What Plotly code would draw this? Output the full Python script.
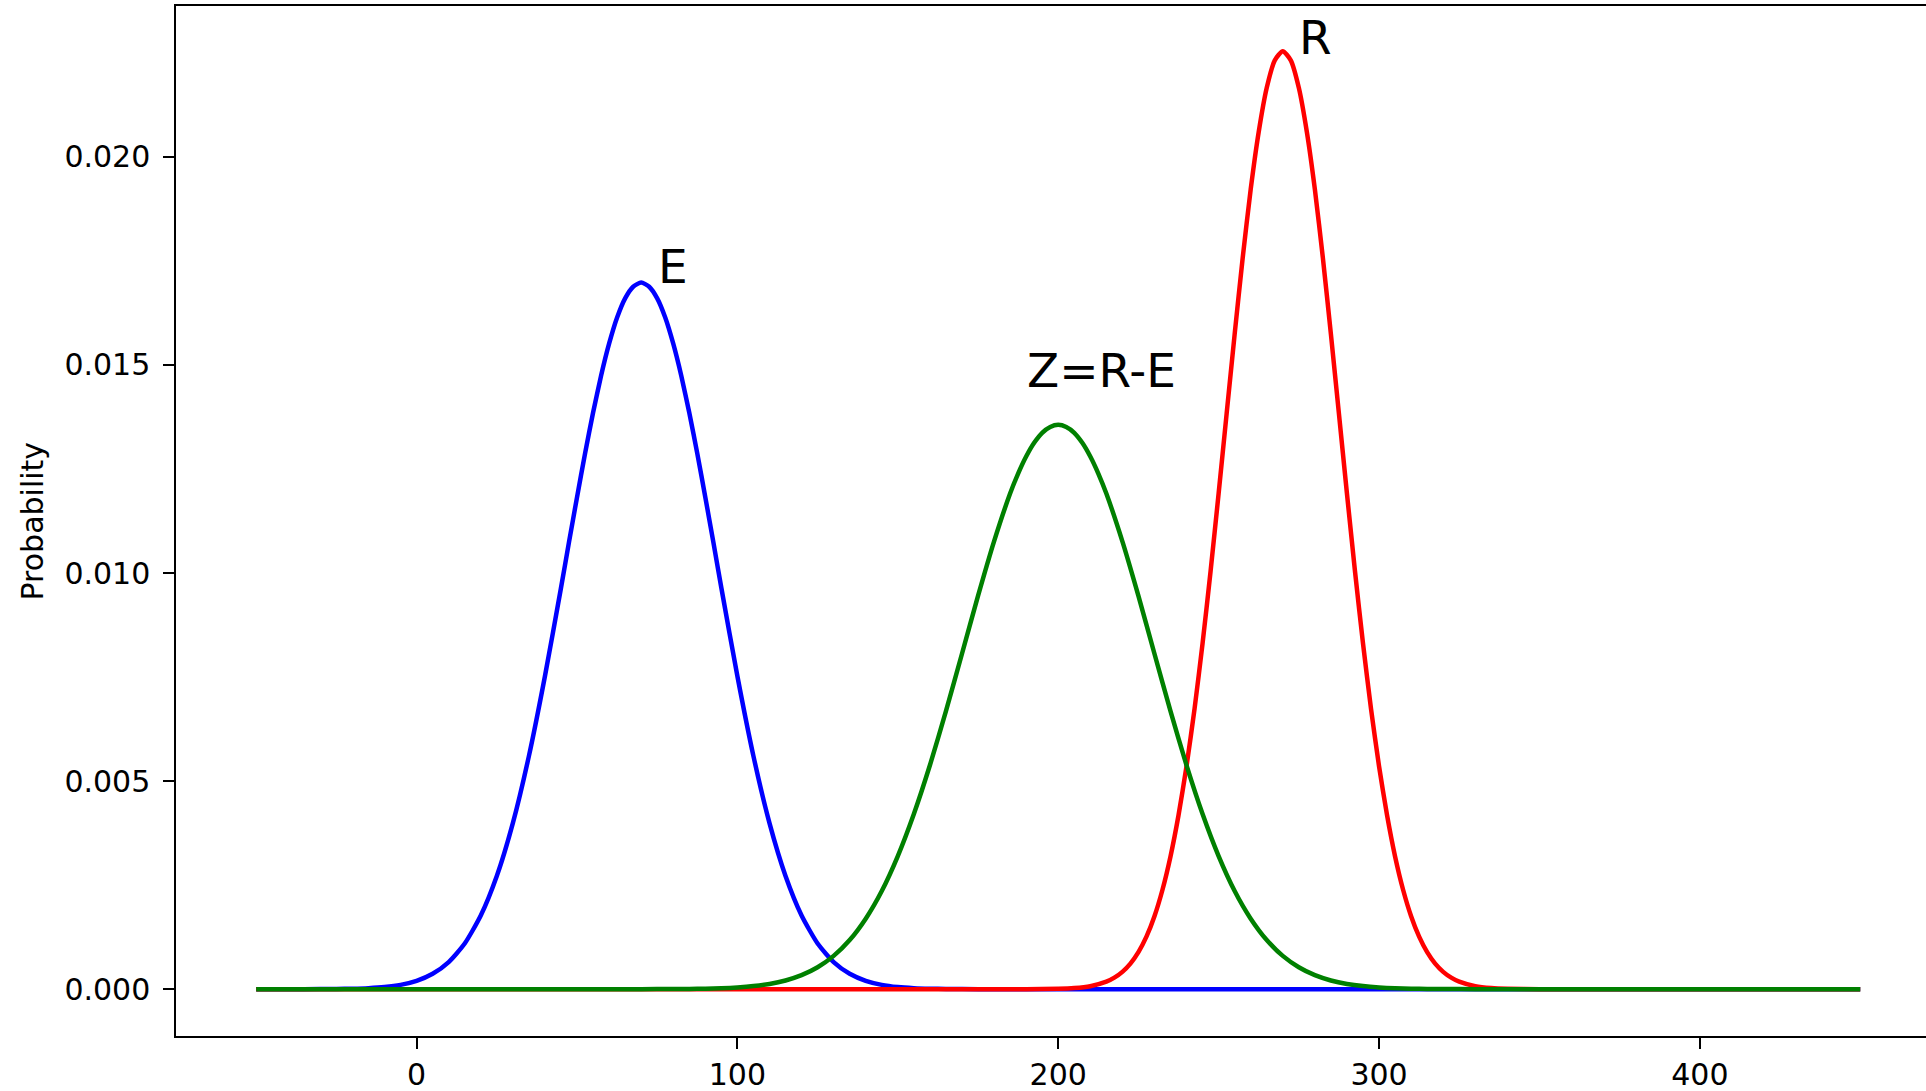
import plotly.graph_objects as go

# ---- data (probability densities) ----
E_x = [-50, -40, -30, -25, -20, -15, -10, -5, 0, 5, 10, 15, 20, 25, 30, 35, 40, 45,
       47.5, 50, 52.5, 55, 57.5, 60, 62.5, 65, 67.5, 70, 72.5, 75, 77.5, 80, 82.5, 85, 87.5, 90, 92.5,
       95, 100, 105, 110, 115, 120, 125, 130, 135, 140, 145, 150, 155, 160, 165, 170,
       180, 190, 450]
E_y = [0, 0, 0.000002, 0.0000048, 0.0000111, 0.0000245, 0.0000517, 0.000104, 0.000201, 0.000370,
       0.000652, 0.001098, 0.00177, 0.00272, 0.00399, 0.00560, 0.00752, 0.00964,
       0.01074, 0.01182, 0.01287, 0.01385, 0.01474, 0.01551, 0.01614, 0.01660, 0.01688, 0.01698,
       0.01688, 0.01660, 0.01614, 0.01551, 0.01474, 0.01385, 0.01287, 0.01182, 0.01074,
       0.00964, 0.00752, 0.00560, 0.00399, 0.00272, 0.00177,
       0.001098, 0.000652, 0.000370, 0.000201, 0.000104, 0.0000517, 0.0000245, 0.0000111, 0.0000048,
       0.000002, 0, 0, 0]

R_x = [-50, 180, 190, 200, 205, 210, 215, 217.5, 220, 222.5, 225, 227.5, 230, 232.5, 235, 237.5, 240,
       242.5, 245, 247.5, 250, 252.5, 255, 257.5, 260, 262.5, 265, 267.5, 270,
       272.5, 275, 277.5, 280, 282.5, 285, 287.5, 290, 292.5, 295, 297.5, 300, 302.5, 305, 307.5, 310,
       312.5, 315, 317.5, 320, 322.5, 325, 330, 335, 340, 350, 360, 450]
R_y = [0, 0, 0, 0.000009, 0.0000266, 0.0000721, 0.000180, 0.000277, 0.000417, 0.000615, 0.00089,
       0.001262, 0.001754, 0.00239, 0.00319, 0.00418, 0.00536,
       0.00674, 0.00831, 0.01005, 0.01191, 0.01383, 0.01574, 0.01757, 0.01922, 0.02060, 0.02166,
       0.02232, 0.02254,
       0.02232, 0.02166, 0.02060, 0.01922, 0.01757, 0.01574, 0.01383, 0.01191, 0.01005, 0.00831,
       0.00674, 0.00536, 0.00418, 0.00319, 0.00239, 0.001754,
       0.001262, 0.00089, 0.000615, 0.000417, 0.000277, 0.000180, 0.0000721, 0.0000266, 0.000009,
       0, 0, 0]

Z_x = [-50, 60, 70, 80, 85, 90, 95, 100, 105, 110, 115, 120, 125, 130, 135, 140, 145, 150, 155, 160,
       165, 170, 175, 180, 185, 187.5, 190, 192.5, 195, 197.5, 200,
       202.5, 205, 207.5, 210, 212.5, 215, 220, 225, 230, 235, 240, 245, 250, 255, 260, 265, 270, 275,
       280, 285, 290, 295, 300, 305, 310, 315, 320, 330, 340, 450]
Z_y = [0, 0, 0, 0.0000033, 0.0000065, 0.0000125, 0.0000232, 0.0000420, 0.0000738, 0.000126, 0.000209,
       0.000336, 0.000526, 0.000800, 0.001181, 0.001695, 0.00236, 0.00320, 0.00421, 0.00538,
       0.00668, 0.00806, 0.00945, 0.01076, 0.01191, 0.01239, 0.01280, 0.01313, 0.01337, 0.01351, 0.01356,
       0.01351, 0.01337, 0.01313, 0.01280, 0.01239, 0.01191, 0.01076, 0.00945, 0.00806, 0.00668,
       0.00538, 0.00421, 0.00320, 0.00236, 0.001695, 0.001181, 0.000800, 0.000526, 0.000336,
       0.000209, 0.000126, 0.0000738, 0.0000420, 0.0000232, 0.0000125, 0.0000065, 0.0000033, 0, 0, 0]

labels = ["E", "R", "Z=R-E"]
label_x = [75, 275, 190]
label_y = [0.0170, 0.0225, 0.0145]

x_ticks = [0, 100, 200, 300, 400]
y_ticks = [0.000, 0.005, 0.010, 0.015, 0.020]
y_tick_text = ["0.000", "0.005", "0.010", "0.015", "0.020"]

FONT = "DejaVu Sans"

fig = go.Figure()
for xs, ys, col in [(E_x, E_y, "#0000ff"), (R_x, R_y, "#ff0000"), (Z_x, Z_y, "#008000")]:
    fig.add_trace(go.Scatter(x=xs, y=ys, mode="lines",
                             line=dict(color=col, width=4.5, shape="spline", smoothing=0.6),
                             showlegend=False, hoverinfo="skip"))

for t, lx, ly in zip(labels, label_x, label_y):
    fig.add_annotation(x=lx, y=ly, xref="x", yref="y", text=t, showarrow=False,
                       xanchor="left", yanchor="bottom", xshift=-1.5, yshift=-14.5,
                       font=dict(family=FONT, size=47, color="black"))

fig.add_annotation(x=0, y=0.5, xref="paper", yref="paper", text="Probability",
                   showarrow=False, textangle=-90, xanchor="center", yanchor="middle",
                   xshift=-144.5, font=dict(family=FONT, size=30, color="black"))

fig.update_layout(
    width=1926, height=1091,
    margin=dict(l=176, r=0, t=6, b=55),
    paper_bgcolor="white", plot_bgcolor="white",
    font=dict(family=FONT, size=30, color="black"),
    hovermode=False,
)
fig.update_xaxes(range=[-75, 470.5], tickvals=x_ticks, ticks="outside", ticklen=10.5, tickwidth=2.4,
                 tickcolor="black", showline=True, linecolor="black", linewidth=2.4, mirror=True,
                 showgrid=False, zeroline=False, tickfont=dict(family=FONT, size=30, color="black"))
fig.update_yaxes(range=[-0.001125, 0.023625], tickvals=y_ticks, ticktext=y_tick_text, ticks="outside",
                 ticklen=10.5, tickwidth=2.4, tickcolor="black", showline=True, linecolor="black",
                 linewidth=2.4, mirror=False, showgrid=False, zeroline=False, ticklabelstandoff=7,
                 tickfont=dict(family=FONT, size=30, color="black"))

fig.write_html("out.html", config={"displayModeBar": False},
               post_script="document.body.style.margin='0';document.body.style.overflow='hidden';")
